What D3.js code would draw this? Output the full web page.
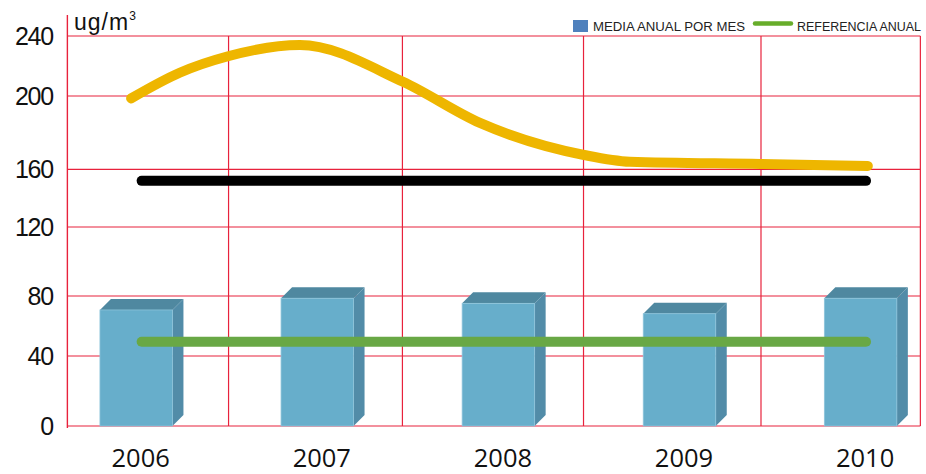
<!DOCTYPE html>
<html><head><meta charset="utf-8">
<script src="https://cdn.jsdelivr.net/npm/d3@7/dist/d3.min.js"></script>
<style>
html,body{margin:0;padding:0;background:#fff;}
svg{display:block;}
</style></head>
<body>
<svg id="chart" width="926" height="474"></svg>
<script>
// ---- data ----
const years = [2006, 2007, 2008, 2009, 2010];
const mediaAnual = [70.7, 78.5, 75.1, 68.2, 78.5];
const yTicks = [0, 40, 80, 120, 160, 200, 240];
const referenciaAnual = [49.5, 49.5];
const referenciaYears = [2006.03, 2010.03];
const limite = [152, 152];
const curveYears = [2005.972, 2006.24, 2006.507, 2006.904, 2007.473, 2007.898, 2008.473, 2008.726, 2009.449, 2010.04];
const curveValues = [198.7, 215.5, 226.5, 234, 209.5, 185.3, 167.8, 164.1, 162.9, 161.8];
const gridYears = [2006.51, 2007.47, 2008.47, 2009.45, 2010.33];
const axisYear = 2005.62;
const legendLabels = ["MEDIA ANUAL POR MES", "REFERENCIA ANUAL"];

// ---- scales ----
const svg = d3.select("#chart");
const y = d3.scaleLinear().domain(yTicks).range([426, 356, 296, 227, 169.3, 96, 36]);
const x = d3.scaleLinear().domain([2006, 2010]).range([136.2, 860.6]);
const barW = 72.5, depth = 11;

const gridColor = "#e8223c";
// horizontal gridlines
svg.append("g").selectAll("line").data(yTicks).join("line")
  .attr("x1", x(axisYear)).attr("x2", x(2010.33))
  .attr("y1", d => y(d)).attr("y2", d => y(d))
  .attr("stroke", gridColor).attr("stroke-width", 1.2);
// vertical gridlines
svg.append("g").selectAll("line").data(gridYears).join("line")
  .attr("x1", d => x(d)).attr("x2", d => x(d))
  .attr("y1", y(240)).attr("y2", y(0))
  .attr("stroke", gridColor).attr("stroke-width", 1.2);
// y axis line
svg.append("line").attr("x1", x(axisYear)).attr("x2", x(axisYear))
  .attr("y1", 15).attr("y2", y(0) + 2).attr("stroke", gridColor).attr("stroke-width", 1.4);

// y tick labels
svg.append("g").selectAll("text").data(yTicks).join("text")
  .attr("x", 53).attr("y", d => y(d)).attr("dy", "0.36em")
  .attr("text-anchor", "end")
  .attr("font-family", "'Liberation Sans', Arial, sans-serif")
  .attr("font-size", 25).attr("letter-spacing", -1.2)
  .attr("fill", "#111").text(d => d);

// unit label
const unit = svg.append("text").attr("x", 74).attr("y", 30)
  .attr("font-family", "'Liberation Sans', Arial, sans-serif")
  .attr("font-size", 23).attr("letter-spacing", 1).attr("fill", "#111");
unit.append("tspan").text("ug/m");
unit.append("tspan").attr("font-size", 12).attr("dy", -10).attr("letter-spacing", 0).text("3");

// ---- bars (3D) ----
const bars = svg.append("g").selectAll("g").data(years.map((yr, i) => ({yr, v: mediaAnual[i]}))).join("g");
bars.append("path") // top face
  .attr("d", d => {
    const x0 = x(d.yr) - barW / 2, x1 = x0 + barW, t = y(d.v);
    return `M${x0},${t}L${x0 + depth},${t - depth}L${x1 + depth},${t - depth}L${x1},${t}Z`;
  }).attr("fill", "#4f88a0");
bars.append("path") // side face
  .attr("d", d => {
    const x1 = x(d.yr) + barW / 2, t = y(d.v), b = y(0);
    return `M${x1},${t}L${x1 + depth},${t - depth}L${x1 + depth},${b - depth}L${x1},${b}Z`;
  }).attr("fill", "#528ca8");
bars.append("rect") // front face
  .attr("x", d => x(d.yr) - barW / 2).attr("y", d => y(d.v))
  .attr("width", barW).attr("height", d => y(0) - y(d.v))
  .attr("fill", "#67aecb").attr("stroke", "#8cc3da").attr("stroke-width", 0.8);

// x labels
svg.append("g").selectAll("text").data(years).join("text")
  .attr("x", d => x(d) + depth / 2 - 1).attr("y", 467)
  .attr("text-anchor", "middle")
  .attr("font-family", "'Open Sans', 'Noto Sans', sans-serif")
  .attr("font-size", 25.5).attr("fill", "#111").text(d => d);

// ---- lines ----
const lineGen = d3.line().x(d => x(d[0])).y(d => y(d[1]));
svg.append("path")
  .attr("d", lineGen(referenciaYears.map((yr, i) => [yr, limite[i]])))
  .attr("stroke", "#000").attr("stroke-width", 10).attr("stroke-linecap", "round").attr("fill", "none");
svg.append("path")
  .attr("d", d3.line().x(d => x(d[0])).y(d => y(d[1])).curve(d3.curveMonotoneX)(curveYears.map((yr, i) => [yr, curveValues[i]])))
  .attr("stroke", "#eeb600").attr("stroke-width", 10).attr("stroke-linecap", "round")
  .attr("stroke-linejoin", "round").attr("fill", "none");
svg.append("path")
  .attr("d", lineGen(referenciaYears.map((yr, i) => [yr, referenciaAnual[i]])))
  .attr("stroke", "#69a845").attr("stroke-width", 10).attr("stroke-linecap", "round").attr("fill", "none");

// ---- legend ----
const lg = svg.append("g").attr("font-family", "'Liberation Sans', Arial, sans-serif").attr("font-size", 12.5).attr("fill", "#222");
lg.append("rect").attr("x", 573).attr("y", 20).attr("width", 15).attr("height", 12).attr("fill", "#4f81bd");
lg.append("text").attr("x", 593).attr("y", 30.5).attr("textLength", 152).attr("lengthAdjust", "spacingAndGlyphs").text(legendLabels[0]);
lg.append("line").attr("x1", 755).attr("x2", 791).attr("y1", 23.5).attr("y2", 23.5)
  .attr("stroke", "#67ad2a").attr("stroke-width", 4.5).attr("stroke-linecap", "round");
lg.append("text").attr("x", 797).attr("y", 30.5).attr("textLength", 124).attr("lengthAdjust", "spacingAndGlyphs").text(legendLabels[1]);
</script>
</body></html>
